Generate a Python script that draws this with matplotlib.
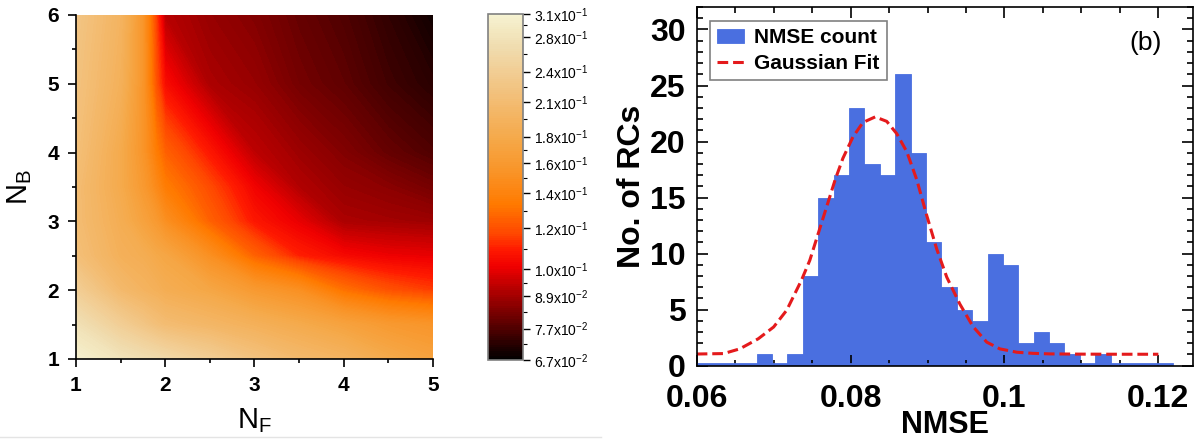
import numpy as np
import matplotlib
matplotlib.use('Agg')
import matplotlib.pyplot as plt
from matplotlib.colors import LinearSegmentedColormap, LogNorm
from matplotlib.ticker import FixedLocator, MultipleLocator, NullFormatter
from matplotlib.lines import Line2D

plt.rcParams['font.family'] = ['Liberation Sans', 'DejaVu Sans']
plt.rcParams['mathtext.fontset'] = 'custom'
plt.rcParams['mathtext.rm'] = 'Liberation Sans'
plt.rcParams['mathtext.it'] = 'Liberation Sans'

# ---- panel (a): NMSE map over N_F / N_B ----
nf = [1, 1.5, 1.75, 1.9, 2, 2.5, 3, 3.5, 4, 4.5, 5]
nb = [1, 1.5, 2, 2.5, 3, 3.5, 4, 5, 6]
nmse_map = [
    [0.305, 0.28, 0.27, 0.265, 0.26, 0.24, 0.22, 0.205, 0.195, 0.18, 0.17],
    [0.275, 0.24, 0.225, 0.215, 0.21, 0.20, 0.19, 0.18, 0.17, 0.16, 0.155],
    [0.24, 0.205, 0.195, 0.19, 0.185, 0.175, 0.16, 0.15, 0.13, 0.12, 0.115],
    [0.215, 0.19, 0.185, 0.178, 0.175, 0.15, 0.125, 0.11, 0.104, 0.101, 0.10],
    [0.21, 0.185, 0.17, 0.16, 0.15, 0.125, 0.108, 0.10, 0.09, 0.089, 0.088],
    [0.21, 0.18, 0.16, 0.145, 0.135, 0.118, 0.102, 0.091, 0.087, 0.085, 0.082],
    [0.215, 0.18, 0.155, 0.135, 0.125, 0.108, 0.093, 0.088, 0.084, 0.080, 0.077],
    [0.22, 0.19, 0.155, 0.12, 0.105, 0.09, 0.087, 0.082, 0.079, 0.075, 0.072],
    [0.225, 0.195, 0.155, 0.115, 0.092, 0.087, 0.084, 0.080, 0.077, 0.073, 0.069],
]
cb_ticks = [0.067, 0.077, 0.089, 0.10, 0.12, 0.14, 0.16, 0.18, 0.21, 0.24, 0.28, 0.31]
cb_labels = ['6.7x10$^{-2}$', '7.7x10$^{-2}$', '8.9x10$^{-2}$', '1.0x10$^{-1}$',
             '1.2x10$^{-1}$', '1.4x10$^{-1}$', '1.6x10$^{-1}$', '1.8x10$^{-1}$',
             '2.1x10$^{-1}$', '2.4x10$^{-1}$', '2.8x10$^{-1}$', '3.1x10$^{-1}$']

# ---- panel (b): histogram of NMSE ----
bin_edges = np.round(np.arange(31 + 1) * 0.002 + 0.0598, 4)
counts = [0, 0, 0, 0, 1, 0, 1, 8, 15, 17, 23, 18, 17, 26, 19, 11, 7, 5, 4,
          10, 9, 2, 3, 2, 1, 0, 1, 0, 0, 0, 0]
fit_x = [0.0600, 0.0635, 0.0656, 0.0680, 0.0700, 0.0717, 0.0736, 0.0747, 0.0758,
         0.0769, 0.0780, 0.0790, 0.0803, 0.0816, 0.0832, 0.0847, 0.0860, 0.0873,
         0.0886, 0.0899, 0.0912, 0.0925, 0.0942, 0.0959, 0.0977, 0.0994, 0.1016,
         0.1037, 0.1060, 0.1100, 0.1150, 0.1200]
fit_y = [1.04, 1.08, 1.5, 2.4, 3.45, 4.95, 7.6, 9.4, 11.8, 14.2, 16.6, 18.5, 20.4,
         21.7, 22.2, 21.8, 20.7, 19.1, 16.6, 13.4, 10.4, 7.9, 5.5, 3.5, 2.1, 1.5,
         1.2, 1.1, 1.05, 1.03, 1.02, 1.02]

fig = plt.figure(figsize=(12.02, 4.41), dpi=100)

# colormap
cmap = LinearSegmentedColormap.from_list('nmse', [
    (0.0, '#000000'), (0.09, '#500000'), (0.18, '#a00000'), (0.27, '#f00000'),
    (0.32, '#ff1a00'), (0.36, '#ff4400'), (0.45, '#ff7a00'), (0.545, '#f99428'),
    (0.636, '#f5a848'), (0.727, '#f3b86a'), (0.818, '#f2ca8e'), (0.909, '#f0ddb0'),
    (1.0, '#f6f3d2')])
vmin, vmax = 0.067, 0.31
norm = LogNorm(vmin=vmin, vmax=vmax)

ax1 = fig.add_axes([0.0632, 0.186, 0.297, 0.780])
X, Y = np.meshgrid(nf, nb)
cf = ax1.contourf(X, Y, np.array(nmse_map), levels=np.geomspace(vmin, vmax, 160),
                  cmap=cmap, norm=norm)
ax1.set_xlim(1, 5)
ax1.set_ylim(1, 6)
ax1.set_xticks([1, 2, 3, 4, 5])
ax1.set_yticks([1, 2, 3, 4, 5, 6])
ax1.xaxis.set_minor_locator(MultipleLocator(0.5))
ax1.yaxis.set_minor_locator(MultipleLocator(0.5))
ax1.tick_params(which='both', direction='out', width=1.2)
ax1.tick_params(which='major', length=6, labelsize=15, pad=6)
ax1.tick_params(which='minor', length=3)
for lb in ax1.get_xticklabels() + ax1.get_yticklabels():
    lb.set_fontweight('bold')
ax1.spines['top'].set_visible(False)
ax1.spines['right'].set_visible(False)
ax1.spines['left'].set_linewidth(1.2)
ax1.spines['bottom'].set_linewidth(1.2)
ax1.set_xlabel('N$_\\mathrm{F}$', fontsize=21, labelpad=8)
ax1.set_ylabel('N$_\\mathrm{B}$', fontsize=21, labelpad=10)

cax = fig.add_axes([0.406, 0.1837, 0.0291, 0.785])
cb = fig.colorbar(cf, cax=cax, ticks=cb_ticks)
cb.set_ticklabels(cb_labels)
cax.yaxis.set_minor_locator(FixedLocator(list(np.sqrt(np.array(cb_ticks[:-1]) * np.array(cb_ticks[1:])))))
cax.yaxis.set_minor_formatter(NullFormatter())
cax.tick_params(which='major', length=5, width=1, labelsize=10, pad=3)
cax.tick_params(which='minor', length=3, width=0.8)
cb.outline.set_edgecolor('#808080')
cb.outline.set_linewidth(1.2)

# faint separator under panel (a)
fig.add_artist(Line2D([0, 0.5], [0.009, 0.009], color='#e4e4e4', lw=1))

# ---- panel (b) ----
ax2 = fig.add_axes([0.5796, 0.1708, 0.4129, 0.8132])
blue = '#4a6fe0'
bars = ax2.bar(bin_edges[:-1], counts, width=0.002, align='edge', color=blue,
               edgecolor=blue, linewidth=0.6, label='NMSE count')
ax2.plot([bin_edges[0], bin_edges[-1]], [0.15, 0.15], color=blue, lw=2)
fit_line, = ax2.plot(fit_x, fit_y, color='#e41a1c', lw=2.2, dashes=(3.5, 1.6),
                     label='Gaussian Fit')
ax2.set_xlim(0.06, 0.1245)
ax2.set_ylim(0, 32)
ax2.set_xticks([0.06, 0.08, 0.1, 0.12])
ax2.set_xticklabels(['0.06', '0.08', '0.1', '0.12'])
ax2.set_yticks([0, 5, 10, 15, 20, 25, 30])
ax2.xaxis.set_minor_locator(MultipleLocator(0.005))
ax2.yaxis.set_minor_locator(MultipleLocator(1))
ax2.tick_params(which='both', direction='in', top=True, right=True, width=1.2)
ax2.tick_params(which='major', length=8)
ax2.tick_params(which='minor', length=4)
ax2.tick_params(axis='x', labelsize=23, pad=13)
ax2.tick_params(axis='y', labelsize=23, pad=8)
for lb in ax2.get_xticklabels() + ax2.get_yticklabels():
    lb.set_fontweight('bold')
for s in ax2.spines.values():
    s.set_linewidth(1.2)
ax2.set_xlabel('NMSE', fontsize=22, fontweight='bold', labelpad=-3)
ax2.set_ylabel('No. of RCs', fontsize=23, fontweight='bold', labelpad=2)
leg = ax2.legend([bars, fit_line], ['NMSE count', 'Gaussian Fit'],
                 loc='upper left', bbox_to_anchor=(0.005, 0.99), fancybox=False,
                 edgecolor='#808080', framealpha=1, handlelength=1.3,
                 handleheight=0.6, borderpad=0.35, labelspacing=0.3,
                 handletextpad=0.5, prop={'weight': 'bold', 'size': 15})
leg.get_frame().set_linewidth(1.2)
ax2.text(0.905, 0.9, '(b)', transform=ax2.transAxes, fontsize=19,
         ha='center', va='center')

fig.savefig('out.png', dpi=100)
